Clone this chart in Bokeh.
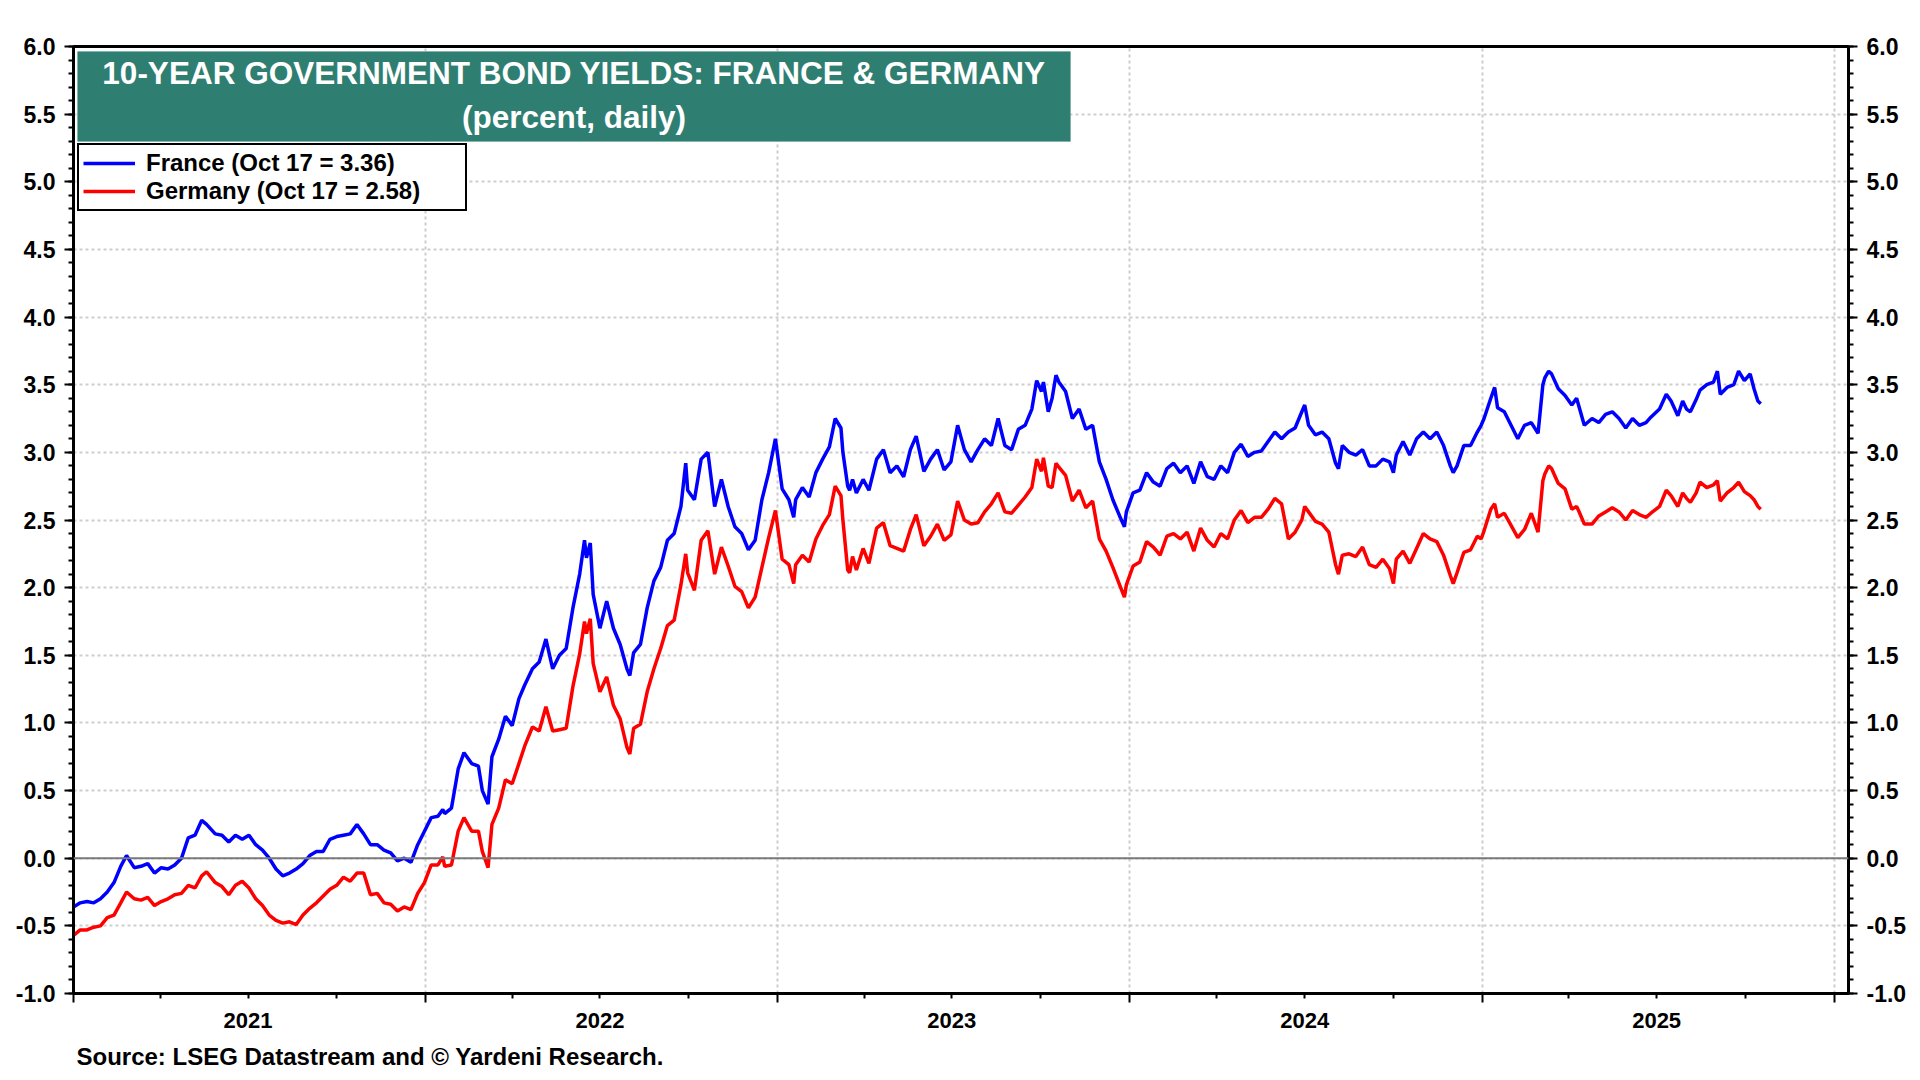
import pandas as pd
from bokeh.plotting import figure
from bokeh.models import (Range1d, LinearAxis, FixedTicker, NumeralTickFormatter, Grid, Span,
                          Legend, LegendItem, BoxAnnotation, Label, ColumnDataSource,
                          CustomJSTickFormatter, Title)
from bokeh.embed import file_html
from bokeh.resources import INLINE

# ---------------- data ----------------
dates = [
    # 2021
    "2021-01-01", "2021-01-08", "2021-01-15", "2021-01-22", "2021-01-29", "2021-02-05", "2021-02-12",
    "2021-02-19", "2021-02-25", "2021-03-05", "2021-03-12", "2021-03-19", "2021-03-26", "2021-04-02",
    "2021-04-09", "2021-04-16", "2021-04-23", "2021-04-30", "2021-05-07", "2021-05-14", "2021-05-19",
    "2021-05-28", "2021-06-04", "2021-06-11", "2021-06-18", "2021-06-25", "2021-07-02", "2021-07-09",
    "2021-07-16", "2021-07-23", "2021-07-30", "2021-08-06", "2021-08-13", "2021-08-20", "2021-08-27",
    "2021-09-03", "2021-09-10", "2021-09-17", "2021-09-24", "2021-10-01", "2021-10-08", "2021-10-15",
    "2021-10-22", "2021-10-29", "2021-11-05", "2021-11-12", "2021-11-19", "2021-11-26", "2021-12-03",
    "2021-12-10", "2021-12-17", "2021-12-24", "2021-12-31",
    # 2022
    "2022-01-07", "2022-01-14", "2022-01-19", "2022-01-21", "2022-01-28", "2022-02-04", "2022-02-10",
    "2022-02-18", "2022-02-25", "2022-03-01", "2022-03-07", "2022-03-11", "2022-03-18", "2022-03-25",
    "2022-04-01", "2022-04-08", "2022-04-14", "2022-04-22", "2022-04-29", "2022-05-06", "2022-05-13",
    "2022-05-20", "2022-05-27", "2022-06-03", "2022-06-10", "2022-06-15", "2022-06-17", "2022-06-21",
    "2022-06-24", "2022-07-01", "2022-07-08", "2022-07-15", "2022-07-22", "2022-07-29", "2022-08-01",
    "2022-08-05", "2022-08-12", "2022-08-19", "2022-08-26", "2022-09-02", "2022-09-09", "2022-09-16",
    "2022-09-23", "2022-09-28", "2022-09-30", "2022-10-07", "2022-10-14", "2022-10-21", "2022-10-28",
    "2022-11-04", "2022-11-11", "2022-11-18", "2022-11-25", "2022-12-02", "2022-12-09", "2022-12-16",
    "2022-12-23", "2022-12-30",
    # 2023
    "2023-01-06", "2023-01-13", "2023-01-18", "2023-01-20", "2023-01-27", "2023-02-03", "2023-02-10",
    "2023-02-17", "2023-02-24", "2023-03-02", "2023-03-08", "2023-03-10", "2023-03-15", "2023-03-17",
    "2023-03-20", "2023-03-24", "2023-03-31", "2023-04-06", "2023-04-14", "2023-04-21", "2023-04-28",
    "2023-05-05", "2023-05-12", "2023-05-19", "2023-05-25", "2023-06-02", "2023-06-09", "2023-06-16",
    "2023-06-23", "2023-06-30", "2023-07-07", "2023-07-14", "2023-07-21", "2023-07-28", "2023-08-04",
    "2023-08-11", "2023-08-18", "2023-08-25", "2023-09-01", "2023-09-08", "2023-09-15", "2023-09-22",
    "2023-09-27", "2023-10-02", "2023-10-04", "2023-10-09", "2023-10-13", "2023-10-17", "2023-10-20",
    "2023-10-27", "2023-11-03", "2023-11-10", "2023-11-17", "2023-11-24", "2023-12-01", "2023-12-08",
    "2023-12-15", "2023-12-22", "2023-12-27", "2023-12-29",
    # 2024
    "2024-01-05", "2024-01-12", "2024-01-19", "2024-01-26", "2024-02-02", "2024-02-09", "2024-02-16",
    "2024-02-23", "2024-03-01", "2024-03-08", "2024-03-15", "2024-03-22", "2024-03-29", "2024-04-05",
    "2024-04-12", "2024-04-19", "2024-04-26", "2024-05-03", "2024-05-10", "2024-05-17", "2024-05-24",
    "2024-05-31", "2024-06-07", "2024-06-14", "2024-06-21", "2024-06-28", "2024-07-01", "2024-07-05",
    "2024-07-12", "2024-07-19", "2024-07-26", "2024-08-02", "2024-08-05", "2024-08-09", "2024-08-16",
    "2024-08-23", "2024-08-30", "2024-09-06", "2024-09-13", "2024-09-20", "2024-09-27", "2024-10-01",
    "2024-10-04", "2024-10-11", "2024-10-18", "2024-10-25", "2024-11-01", "2024-11-08", "2024-11-15",
    "2024-11-22", "2024-11-29", "2024-12-02", "2024-12-06", "2024-12-13", "2024-12-20", "2024-12-27",
    "2024-12-31",
    # 2025
    "2025-01-03", "2025-01-10", "2025-01-14", "2025-01-17", "2025-01-24", "2025-01-31", "2025-02-07",
    "2025-02-14", "2025-02-21", "2025-02-28", "2025-03-05", "2025-03-07", "2025-03-11", "2025-03-14",
    "2025-03-21", "2025-03-28", "2025-04-04", "2025-04-09", "2025-04-11", "2025-04-17", "2025-04-25",
    "2025-05-02", "2025-05-09", "2025-05-16", "2025-05-23", "2025-05-30", "2025-06-06", "2025-06-13",
    "2025-06-20", "2025-06-25", "2025-07-04", "2025-07-11", "2025-07-16", "2025-07-23", "2025-07-28",
    "2025-08-01", "2025-08-05", "2025-08-11", "2025-08-15", "2025-08-22", "2025-08-29", "2025-09-02",
    "2025-09-05", "2025-09-12", "2025-09-19", "2025-09-24", "2025-09-30", "2025-10-06", "2025-10-10",
    "2025-10-14", "2025-10-17",
]

france = [
    # 2021
    -0.36, -0.33, -0.32, -0.33, -0.30, -0.25, -0.18, -0.06, 0.02, -0.07, -0.06, -0.04, -0.11, -0.07,
    -0.08, -0.05, 0.00, 0.15, 0.17, 0.28, 0.25, 0.18, 0.17, 0.12, 0.17, 0.14, 0.17, 0.10,
    0.06, 0.00, -0.08, -0.13, -0.11, -0.08, -0.04, 0.02, 0.05, 0.05, 0.14, 0.16, 0.17, 0.18,
    0.25, 0.18, 0.10, 0.10, 0.06, 0.04, -0.02, 0.00, -0.03, 0.10, 0.20,
    # 2022
    0.30, 0.31, 0.36, 0.33, 0.37, 0.66, 0.78, 0.70, 0.68, 0.50, 0.40, 0.75, 0.88, 1.05,
    0.98, 1.18, 1.28, 1.40, 1.45, 1.62, 1.40, 1.50, 1.55, 1.85, 2.10, 2.35, 2.22, 2.33,
    1.95, 1.70, 1.90, 1.70, 1.58, 1.40, 1.35, 1.52, 1.58, 1.85, 2.05, 2.15, 2.35, 2.40,
    2.60, 2.92, 2.72, 2.65, 2.95, 3.00, 2.60, 2.80, 2.60, 2.45, 2.40, 2.28, 2.35, 2.65,
    2.85, 3.10,
    # 2023
    2.73, 2.65, 2.52, 2.65, 2.74, 2.67, 2.85, 2.95, 3.04, 3.25, 3.18, 3.00, 2.75, 2.72,
    2.80, 2.70, 2.80, 2.72, 2.95, 3.02, 2.85, 2.90, 2.82, 3.02, 3.12, 2.86, 2.95, 3.02,
    2.87, 2.93, 3.20, 3.02, 2.93, 3.02, 3.10, 3.05, 3.25, 3.05, 3.02, 3.17, 3.20, 3.32,
    3.53, 3.45, 3.52, 3.30, 3.40, 3.57, 3.52, 3.45, 3.25, 3.32, 3.17, 3.20, 2.93, 2.80,
    2.65, 2.53, 2.45, 2.56,
    # 2024
    2.70, 2.72, 2.85, 2.78, 2.75, 2.88, 2.92, 2.85, 2.90, 2.77, 2.93, 2.82, 2.80, 2.90,
    2.85, 3.00, 3.06, 2.97, 3.00, 3.01, 3.08, 3.15, 3.10, 3.15, 3.18, 3.30, 3.35, 3.20,
    3.13, 3.15, 3.10, 2.92, 2.88, 3.05, 3.00, 2.98, 3.02, 2.90, 2.90, 2.95, 2.93, 2.85,
    2.98, 3.08, 2.98, 3.10, 3.15, 3.10, 3.15, 3.05, 2.90, 2.85, 2.90, 3.05, 3.05, 3.15,
    3.20,
    # 2025
    3.25, 3.40, 3.48, 3.33, 3.30, 3.20, 3.10, 3.20, 3.22, 3.14, 3.50, 3.55, 3.60, 3.58,
    3.47, 3.42, 3.35, 3.40, 3.35, 3.20, 3.25, 3.22, 3.28, 3.30, 3.25, 3.18, 3.25, 3.20,
    3.22, 3.26, 3.32, 3.43, 3.38, 3.27, 3.38, 3.32, 3.30, 3.39, 3.46, 3.50, 3.52, 3.60,
    3.43, 3.48, 3.50, 3.60, 3.53, 3.58, 3.47, 3.38, 3.36,
]

germany = [
    # 2021
    -0.57, -0.53, -0.53, -0.51, -0.50, -0.44, -0.42, -0.33, -0.25, -0.30, -0.31, -0.29, -0.35, -0.32,
    -0.30, -0.27, -0.26, -0.20, -0.22, -0.13, -0.10, -0.18, -0.21, -0.27, -0.20, -0.17, -0.22, -0.30,
    -0.35, -0.42, -0.46, -0.48, -0.47, -0.49, -0.42, -0.37, -0.33, -0.28, -0.23, -0.20, -0.14, -0.17,
    -0.11, -0.11, -0.27, -0.26, -0.33, -0.34, -0.39, -0.36, -0.38, -0.26, -0.18,
    # 2022
    -0.05, -0.05, 0.01, -0.06, -0.05, 0.20, 0.30, 0.20, 0.20, 0.05, -0.07, 0.25, 0.37, 0.58,
    0.55, 0.70, 0.83, 0.97, 0.94, 1.12, 0.94, 0.95, 0.96, 1.27, 1.51, 1.75, 1.66, 1.77,
    1.44, 1.23, 1.34, 1.13, 1.03, 0.82, 0.77, 0.96, 0.99, 1.23, 1.40, 1.55, 1.72, 1.76,
    2.02, 2.25, 2.11, 1.98, 2.35, 2.42, 2.10, 2.30, 2.16, 2.01, 1.97, 1.85, 1.93, 2.15,
    2.37, 2.57,
    # 2023
    2.21, 2.17, 2.03, 2.17, 2.24, 2.19, 2.36, 2.46, 2.54, 2.75, 2.68, 2.50, 2.13, 2.11,
    2.23, 2.13, 2.29, 2.18, 2.44, 2.48, 2.31, 2.29, 2.27, 2.43, 2.54, 2.31, 2.38, 2.47,
    2.35, 2.39, 2.64, 2.50, 2.47, 2.48, 2.56, 2.62, 2.70, 2.56, 2.55, 2.61, 2.67, 2.74,
    2.95, 2.86, 2.96, 2.75, 2.74, 2.92, 2.89, 2.83, 2.64, 2.72, 2.59, 2.64, 2.36, 2.27,
    2.15, 2.02, 1.93, 2.02,
    # 2024
    2.16, 2.19, 2.34, 2.30, 2.24, 2.38, 2.40, 2.36, 2.41, 2.27, 2.44, 2.35, 2.30, 2.40,
    2.36, 2.50, 2.57, 2.48, 2.52, 2.52, 2.58, 2.66, 2.62, 2.36, 2.41, 2.50, 2.60, 2.56,
    2.49, 2.47, 2.41, 2.17, 2.10, 2.24, 2.25, 2.23, 2.30, 2.17, 2.15, 2.21, 2.14, 2.03,
    2.21, 2.27, 2.18, 2.29, 2.40, 2.36, 2.34, 2.24, 2.09, 2.03, 2.11, 2.26, 2.28, 2.38,
    2.36,
    # 2025
    2.42, 2.58, 2.62, 2.52, 2.55, 2.46, 2.37, 2.43, 2.55, 2.41, 2.79, 2.84, 2.90, 2.88,
    2.77, 2.73, 2.58, 2.60, 2.57, 2.47, 2.47, 2.53, 2.56, 2.59, 2.56, 2.50, 2.57, 2.54,
    2.52, 2.55, 2.60, 2.72, 2.68, 2.60, 2.70, 2.66, 2.63, 2.70, 2.78, 2.74, 2.76, 2.79,
    2.64, 2.70, 2.74, 2.78, 2.71, 2.68, 2.65, 2.60, 2.58,
]

title_line1 = "10-YEAR GOVERNMENT BOND YIELDS: FRANCE & GERMANY"
title_line2 = "(percent, daily)"
france_label = "France (Oct 17 = 3.36)"
germany_label = "Germany (Oct 17 = 2.58)"
source_text = "Source: LSEG Datastream and \u00a9 Yardeni Research."
year_list = [2021, 2022, 2023, 2024, 2025]
y_ticks = [-1.0, -0.5, 0.0, 0.5, 1.0, 1.5, 2.0, 2.5, 3.0, 3.5, 4.0, 4.5, 5.0, 5.5, 6.0]

# ---------------- helpers ----------------
def ms(s):
    return pd.Timestamp(s).value / 1e6

FONT = "Liberation Sans"
X0, X1 = ms("2021-01-01"), ms("2026-01-16")
Y0, Y1 = -1.0, 6.0
FRAME_W, FRAME_H = 1775, 947

def fx(px):  # frame pixel (from left) -> data x
    return X0 + (X1 - X0) * px / FRAME_W

def fy(px):  # frame pixel (from top) -> data y
    return Y1 - (Y1 - Y0) * px / FRAME_H

src = ColumnDataSource(dict(x=[ms(d) for d in dates], fr=france, de=germany))

p = figure(width=1920, height=1080, output_backend="svg", toolbar_location=None,
           x_axis_type=None, y_axis_type=None,
           x_range=Range1d(X0, X1), y_range=Range1d(Y0, Y1),
           min_border_left=73, min_border_right=72, min_border_top=46, min_border_bottom=87)
p.outline_line_color = "black"
p.outline_line_width = 3
p.background_fill_color = "white"
p.border_fill_color = "white"

year_ticks = [ms(f"{y}-01-01") for y in year_list + [2026]]
quarter_ticks = [ms(f"{y}-{m:02d}-01") for y in year_list for m in (4, 7, 10)]
mid_ticks = [ms(f"{y}-07-01") for y in year_list]
y_minor = [round(-1.0 + 0.1 * i, 1) for i in range(71)]

# grids
p.add_layout(Grid(dimension=0, ticker=FixedTicker(ticks=year_ticks), grid_line_color="#CDCDCD",
                  grid_line_width=2, grid_line_dash="3 3"))
p.add_layout(Grid(dimension=1, ticker=FixedTicker(ticks=y_ticks), grid_line_color="#CDCDCD",
                  grid_line_width=2, grid_line_dash="3 3"))
p.add_layout(Span(location=0, dimension="width", line_color="#7A7A7A", line_width=2))

# x axes: tick axis and year-label axis
xa = LinearAxis(ticker=FixedTicker(ticks=year_ticks, minor_ticks=quarter_ticks),
                formatter=CustomJSTickFormatter(code="return ''"),
                axis_line_width=3, axis_line_color="black",
                major_tick_out=9, major_tick_in=0, major_tick_line_width=2,
                minor_tick_out=5, minor_tick_in=0, minor_tick_line_width=2,
                major_label_standoff=0, major_label_text_font_size="0px")
p.add_layout(xa, "below")
xl = LinearAxis(ticker=FixedTicker(ticks=mid_ticks, minor_ticks=[]),
                formatter=CustomJSTickFormatter(code="return String(new Date(tick).getUTCFullYear())"),
                axis_line_color=None, major_tick_line_color=None, minor_tick_line_color=None,
                major_tick_out=0, major_tick_in=0, major_label_standoff=10,
                major_label_text_font=FONT, major_label_text_font_size="22px",
                major_label_text_font_style="bold", major_label_text_color="black")
p.add_layout(xl, "below")

# source note below the axes
p.add_layout(Title(text=source_text, align="left", offset=3, standoff=21,
                   text_font=FONT, text_font_size="24px", text_font_style="bold",
                   text_color="black"), "below")

# y axes
for side in ("left", "right"):
    ya = LinearAxis(ticker=FixedTicker(ticks=y_ticks, minor_ticks=y_minor),
                    formatter=NumeralTickFormatter(format="0.0"),
                    axis_line_width=3, axis_line_color="black",
                    major_tick_out=9, major_tick_in=0, major_tick_line_width=2,
                    minor_tick_out=5, minor_tick_in=0, minor_tick_line_width=2,
                    major_label_standoff=9,
                    major_label_text_font=FONT, major_label_text_font_size="23px",
                    major_label_text_font_style="bold", major_label_text_color="black")
    p.add_layout(ya, side)

# series
r_de = p.line(x="x", y="de", source=src, line_color="#FF0000", line_width=3.5)
r_fr = p.line(x="x", y="fr", source=src, line_color="#0000FF", line_width=3.5)

# title box
p.add_layout(BoxAnnotation(left=fx(4), right=fx(997), top=fy(5), bottom=fy(95),
                           fill_color="#2F7E72", fill_alpha=1.0, line_color="#5E9E94",
                           line_width=1))
p.add_layout(Label(x=fx(500.5), y=fy(26.8), text=title_line1, text_align="center",
                   text_baseline="middle", text_color="white", text_font=FONT,
                   text_font_size="31.5px", text_font_style="bold"))
p.add_layout(Label(x=fx(500.5), y=fy(70.5), text=title_line2, text_align="center",
                   text_baseline="middle", text_color="white", text_font=FONT,
                   text_font_size="31.5px", text_font_style="bold"))

# legend
legend = Legend(items=[LegendItem(label=france_label, renderers=[r_fr]),
                       LegendItem(label=germany_label, renderers=[r_de])],
                location=(4, FRAME_H - 101 - 64),
                border_line_color="black", border_line_width=2, border_line_alpha=1.0,
                background_fill_color="white", background_fill_alpha=1.0,
                padding=4, spacing=0, margin=0,
                glyph_width=52, glyph_height=26, label_height=26, label_width=315,
                label_standoff=11, label_text_font=FONT, label_text_font_size="24px",
                label_text_font_style="bold", label_text_color="black")
p.add_layout(legend)

open("out.html", "w").write(file_html(p, INLINE))
